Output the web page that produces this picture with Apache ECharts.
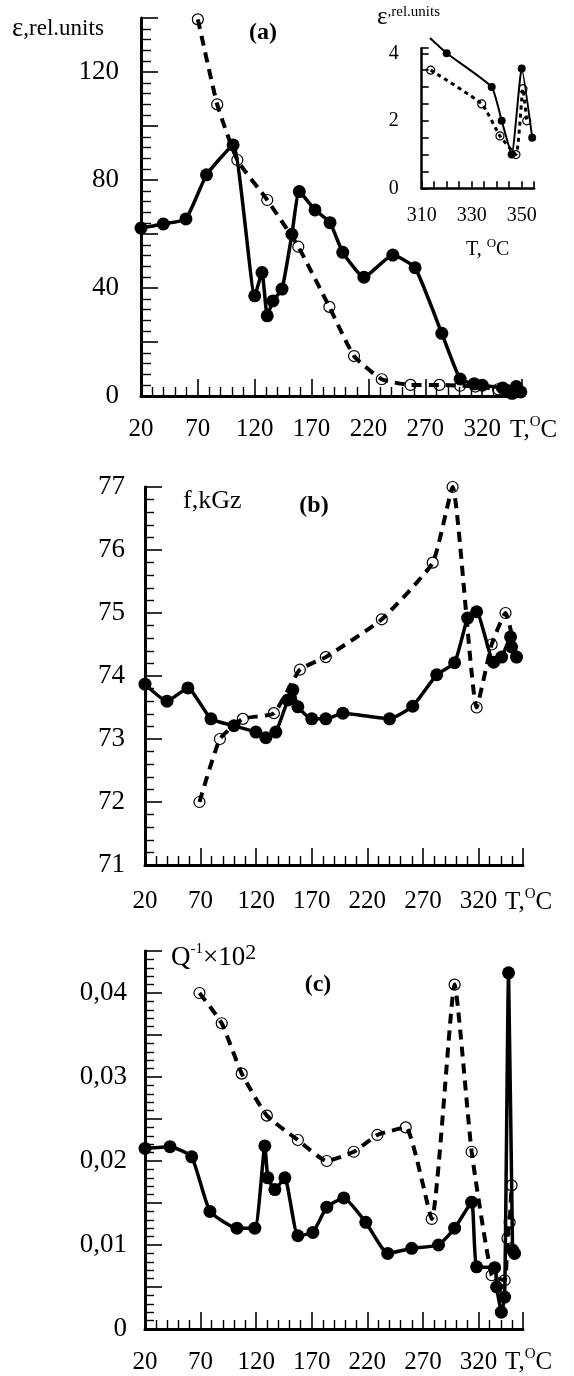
<!DOCTYPE html>
<html><head><meta charset="utf-8">
<script src="https://cdn.jsdelivr.net/npm/echarts@6/dist/echarts.min.js"></script>
<style>html,body{margin:0;padding:0;background:#fff}#c{width:574px;height:1376px}</style>
</head><body><div id="c"></div>
<script>
// ---------- data ----------
// Panel (a): epsilon, rel. units vs T
const aSolidT = [20, 39.6, 59.5, 77.6, 101, 120, 126.4, 131, 136, 144, 152.7, 159.2, 173, 186.2, 197.4, 216, 241.4, 261, 284.5, 300.6, 313, 320, 338, 342, 346, 350, 354];
const aSolidV = [62.2, 63.7, 65.6, 81.9, 93, 37.1, 45.7, 29.7, 35.2, 39.6, 59.9, 75.7, 68.9, 64.2, 53.2, 44, 52.2, 47.5, 23.2, 6.3, 4.5, 4.0, 3.0, 2.0, 1.0, 3.5, 1.5];
const aDashT = [70, 87, 104.7, 131, 158.3, 185.6, 207.3, 231.7, 257, 282.4, 300.6, 314, 334, 341, 347.7, 350.5, 352];
const aDashV = [139.5, 108, 87.4, 72.6, 55.3, 33, 14.8, 6.2, 4.1, 4.1, 3.8, 3.5, 2.5, 1.55, 1.0, 2.9, 2.0];
// Inset of (a)
const insSolidT = [313.3, 320, 338, 342, 346, 350, 354.2];
const insSolidV = [4.45, 4.0, 3.0, 2.0, 1.0, 3.55, 1.5];
const insDashT = [313.6, 334, 341.3, 347.7, 350.5, 352];
const insDashV = [3.5, 2.5, 1.55, 1.0, 2.95, 2.0];
// Panel (b): f, kGz vs T
const bSolidT = [20, 39.8, 58.6, 79.3, 100, 119.7, 128.7, 137.7, 148.5, 153, 157.5, 170, 182.6, 198, 240, 260.8, 282.4, 298.5, 310.2, 318.3, 333.6, 340.8, 348.8, 349.7, 354.2];
const bSolidV = [73.87, 73.6, 73.81, 73.32, 73.21, 73.11, 73.02, 73.11, 73.62, 73.78, 73.51, 73.32, 73.32, 73.41, 73.32, 73.52, 74.02, 74.21, 74.92, 75.02, 74.22, 74.3, 74.62, 74.46, 74.3];
const bDashT = [69, 87.4, 108, 135.9, 159.3, 182.6, 233, 278.8, 296.7, 318.3, 331.8, 344.3, 354.2];
const bDashV = [72.0, 73.0, 73.32, 73.41, 74.1, 74.3, 74.9, 75.8, 77.0, 73.5, 74.5, 75.0, 74.3];
// Panel (c): Q^-1 x 10^2 vs T
const cSolidT = [20, 42.5, 62, 78.4, 102.7, 118.8, 127.8, 130.5, 136.8, 145.8, 157.5, 171, 183.5, 198.8, 218.6, 238.3, 259.9, 284, 298.5, 313.8, 318.3, 334.5, 336.3, 340.5, 343.5, 347, 350.6, 352.4];
const cSolidV = [0.0215, 0.0217, 0.0205, 0.0140, 0.0120, 0.0120, 0.0218, 0.0180, 0.0166, 0.0180, 0.0111, 0.0115, 0.0145, 0.0156, 0.0127, 0.0090, 0.0096, 0.0100, 0.0120, 0.0151, 0.0074, 0.0073, 0.0050, 0.0020, 0.0038, 0.0424, 0.0094, 0.0090];
const cDashT = [69, 89, 107, 129.6, 157.5, 183.5, 207.8, 229, 254.5, 277.9, 298.5, 313.8, 331.8, 343.5, 346, 348, 349.7];
const cDashV = [0.0400, 0.0364, 0.0304, 0.0254, 0.0225, 0.0200, 0.0211, 0.0231, 0.0240, 0.0131, 0.0410, 0.0211, 0.0064, 0.0058, 0.0108, 0.0127, 0.0171];
// tick labels
const xTickLabels = [20, 70, 120, 170, 220, 270, 320];
const aYTickLabels = [0, 40, 80, 120];
const bYTickLabels = [71, 72, 73, 74, 75, 76, 77];
const cYTickValues = [0, 0.01, 0.02, 0.03, 0.04];
const cYTickLabels = ['0', '0,01', '0,02', '0,03', '0,04'];
const insXTickLabels = [310, 330, 350];
const insYTickLabels = [0, 2, 4];

// ---------- rendering ----------
const FONT = '"Liberation Serif","Times New Roman",serif';
const pairs = (t, v) => t.map((x, i) => [x, v[i]]);
const near = (v, list) => list.findIndex(u => Math.abs(u - v) < 1e-7);

function axis(o) {
  return {
    type: 'value', gridIndex: o.g, min: o.min, max: o.max, interval: o.interval,
    axisLine: {show: true, onZero: false, lineStyle: {color: '#000', width: o.lw || 3}},
    axisTick: {show: true, inside: true, length: o.tl, lineStyle: {color: '#000', width: 1.6}},
    minorTick: {show: !!o.minor, splitNumber: o.minor || 5, length: o.ml || 8, lineStyle: {color: '#000', width: 1.4}},
    splitLine: {show: false}, minorSplitLine: {show: false},
    axisLabel: {show: true, color: '#000', fontFamily: FONT, fontSize: o.fs, margin: o.margin,
      showMinLabel: true, showMaxLabel: true, formatter: o.fmt}
  };
}
const listFmt = (list) => (v) => near(v, list) >= 0 ? String(list[near(v, list)]) : '';

function solid(xi, t, v, size, lw, extra) {
  return Object.assign({
    type: 'line', xAxisIndex: xi, yAxisIndex: xi, data: pairs(t, v),
    symbol: 'circle', symbolSize: size, showSymbol: true, smooth: 0.15,
    lineStyle: {color: '#000', width: lw, type: 'solid'},
    itemStyle: {color: '#000', borderWidth: 0},
    emphasis: {disabled: true}, silent: true, animation: false, z: 3
  }, extra || {});
}
function dashed(xi, t, v, size, lw, dash, extra) {
  return Object.assign({
    type: 'line', xAxisIndex: xi, yAxisIndex: xi, data: pairs(t, v),
    symbol: 'circle', symbolSize: size, showSymbol: true, smooth: 0.15,
    lineStyle: {color: '#000', width: lw, type: dash},
    itemStyle: {color: 'rgba(255,255,255,0)', borderColor: '#000', borderWidth: 1.2},
    emphasis: {disabled: true}, silent: true, animation: false, z: 4
  }, extra || {});
}

const insSolidData = pairs(insSolidT, insSolidV).map((p, i) => i === 0 ? {value: p, symbol: 'none'} : p);

const tLabel = (x, y, fs, sup, lead) => ({
  type: 'text', x: x, y: y, silent: true,
  style: {text: '{a|' + lead + '}{s|O}{a|C}', align: 'left', verticalAlign: 'middle', fill: '#000',
    rich: {a: {fontFamily: FONT, fontSize: fs, lineHeight: fs + 6, fill: '#000'},
           s: {fontFamily: FONT, fontSize: sup, lineHeight: Math.round(sup * 0.65), verticalAlign: 'top', fill: '#000'}}}
});
const plain = (x, y, text, fs, weight, align) => ({
  type: 'text', x: x, y: y, silent: true,
  style: {text: text, fontFamily: FONT, fontSize: fs, fontWeight: weight || 'normal', fill: '#000',
    align: align || 'left', verticalAlign: 'middle'}
});

const option = {
  backgroundColor: '#fff',
  animation: false,
  grid: [
    {left: 141, top: 18, width: 381, height: 378, outerBoundsMode: 'none'},
    {left: 421.7, top: 48.2, width: 112.5, height: 140.1, outerBoundsMode: 'none'},
    {left: 145, top: 487, width: 378, height: 378, outerBoundsMode: 'none'},
    {left: 145, top: 951, width: 378, height: 378, outerBoundsMode: 'none'}
  ],
  xAxis: [
    axis({g: 0, min: 20, max: 355, interval: 50, tl: 17, minor: 5, ml: 9, fs: 25, margin: 21, fmt: listFmt(xTickLabels)}),
    axis({g: 1, min: 310, max: 355, interval: 5, tl: 7, lw: 2.5, fs: 20, margin: 17, fmt: listFmt(insXTickLabels)}),
    axis({g: 2, min: 20, max: 360, interval: 50, tl: 17, minor: 5, ml: 9, fs: 25, margin: 24, fmt: listFmt(xTickLabels)}),
    axis({g: 3, min: 20, max: 360, interval: 50, tl: 17, minor: 5, ml: 9, fs: 25, margin: 21, fmt: listFmt(xTickLabels)})
  ],
  yAxis: [
    axis({g: 0, min: 0, max: 140, interval: 20, tl: 17, minor: 5, ml: 10, fs: 27, margin: 22, fmt: listFmt(aYTickLabels)}),
    axis({g: 1, min: 0, max: 4.15, interval: 0.5, tl: 7, lw: 2.5, fs: 20, margin: 23, fmt: listFmt(insYTickLabels)}),
    axis({g: 2, min: 71, max: 77, interval: 1, tl: 17, minor: 5, ml: 9, fs: 27, margin: 20, fmt: listFmt(bYTickLabels)}),
    axis({g: 3, min: 0, max: 0.045, interval: 0.005, tl: 17, minor: 5, ml: 9, fs: 27, margin: 18,
      fmt: (v) => { const k = near(v, cYTickValues); return k >= 0 ? cYTickLabels[k] : ''; }})
  ],
  series: [
    solid(0, aSolidT, aSolidV, 13, 3.5),
    dashed(0, aDashT, aDashV, 11, 4, [10, 7]),
    Object.assign(solid(1, [], [], 8, 2), {data: insSolidData, clip: false}),
    dashed(1, insDashT, insDashV, 8, 3, [4, 4]),
    solid(2, bSolidT, bSolidV, 13, 3.5),
    dashed(2, bDashT, bDashV, 11, 4, [10, 7]),
    solid(3, cSolidT, cSolidV, 13, 3.5),
    dashed(3, cDashT, cDashV, 11, 4, [10, 7])
  ],
  graphic: [
    // panel (a)
    {type: 'text', x: 12, y: 29, silent: true, style: {text: '{e|ε}{r|,rel.units}', align: 'left', verticalAlign: 'middle', fill: '#000',
      rich: {e: {fontFamily: FONT, fontSize: 27, lineHeight: 30, fill: '#000'}, r: {fontFamily: FONT, fontSize: 23, lineHeight: 30, fill: '#000'}}}},
    plain(263, 33, '(a)', 24, 'bold', 'center'),
    tLabel(510, 430, 25, 15, 'T,'),
    // inset
    {type: 'text', x: 377, y: 17, silent: true, style: {text: '{e|ε}{r|,rel.units}', align: 'left', verticalAlign: 'middle', fill: '#000',
      rich: {e: {fontFamily: FONT, fontSize: 25, lineHeight: 24, fill: '#000'}, r: {fontFamily: FONT, fontSize: 15, lineHeight: 14, verticalAlign: 'top', fill: '#000'}}}},
    tLabel(466, 250, 20, 13, 'T, '),
    // panel (b)
    plain(183, 501, 'f,kGz', 26),
    plain(314, 506, '(b)', 24, 'bold', 'center'),
    tLabel(505, 902, 25, 15, 'T,'),
    // panel (c)
    {type: 'text', x: 171, y: 958, silent: true, style: {text: '{q|Q}{s|-1}{q|×10}{t|2}', align: 'left', verticalAlign: 'middle', fill: '#000',
      rich: {q: {fontFamily: FONT, fontSize: 27, lineHeight: 32, fill: '#000'},
             s: {fontFamily: FONT, fontSize: 15, lineHeight: 12, verticalAlign: 'top', fill: '#000'},
             t: {fontFamily: FONT, fontSize: 22, lineHeight: 13, verticalAlign: 'top', fill: '#000'}}}},
    plain(318, 985, '(c)', 24, 'bold', 'center'),
    tLabel(505, 1362, 25, 15, 'T,')
  ]
};
const chart = echarts.init(document.getElementById('c'), null, {renderer: 'canvas', width: 574, height: 1376});
chart.setOption(option);
</script>
</body></html>
